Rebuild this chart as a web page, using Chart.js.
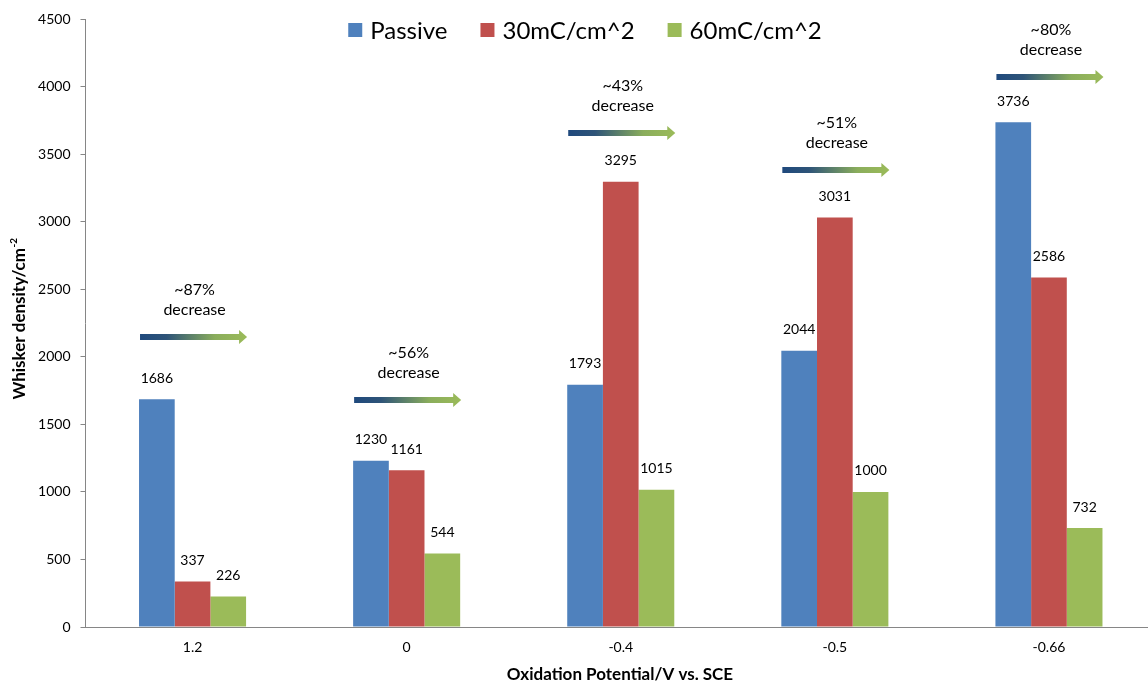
<!DOCTYPE html>
<html>
<head>
<meta charset="utf-8">
<title>Whisker density vs. oxidation potential</title>
<script src="https://cdn.jsdelivr.net/npm/chart.js@4.4.1/dist/chart.umd.min.js"></script>
<style>
  html, body { margin: 0; padding: 0; background: #fff; overflow: hidden; }
  #wrap { width: 1148px; height: 688px; overflow: hidden; position: relative; }
  canvas { display: block; }
</style>
</head>
<body>
<div id="wrap"><canvas id="chart" width="1156" height="688"></canvas></div>
<script>
// Oxidation potential categories (V vs. SCE)
const categories = ['1.2', '0', '-0.4', '-0.5', '-0.66'];

// Whisker density per series (cm^-2)
const passive = [1686, 1230, 1793, 2044, 3736];
const charge30 = [337, 1161, 3295, 3031, 2586];
const charge60 = [226, 544, 1015, 1000, 732];

// Series names
const seriesNames = ['Passive', '30mC/cm^2', '60mC/cm^2'];

// Reduction notes above each group, and the value level of each arrow
const decreaseText = ['~87%', '~56%', '~43%', '~51%', '~80%'];
const arrowLevel = [2150, 1680, 3655, 3380, 4072];

// Y axis range
const yMax = 4500;
const yStep = 500;

const COLORS = ['#4f81bd', '#c0504d', '#9bbb59'];
const FONT = 'Lato, "Liberation Sans", Arial, sans-serif';
const AXIS_GREY = '#868686';

const overlay = {
  id: 'overlay',
  afterDatasetsDraw(chart) {
    const ctx = chart.ctx;
    const xs = chart.scales.x;
    const ys = chart.scales.y;
    const area = chart.chartArea;
    ctx.save();

    // value labels above bars
    ctx.fillStyle = '#000';
    ctx.font = '14px ' + FONT;
    ctx.textAlign = 'center';
    ctx.textBaseline = 'middle';
    chart.data.datasets.forEach((ds, di) => {
      const meta = chart.getDatasetMeta(di);
      meta.data.forEach((bar, i) => {
        ctx.fillText(String(ds.data[i]), bar.x, bar.y - 21);
      });
    });

    // decrease notes with gradient arrows
    const catW = (area.right - area.left) / categories.length;
    decreaseText.forEach((txt, i) => {
      const cx = xs.getPixelForValue(i);
      const y = Math.round(ys.getPixelForValue(arrowLevel[i]));
      const x0 = cx - catW * 0.25 + 1;
      const x1 = cx + catW * 0.25 + 1;
      const headLen = 8, shaftH = 6, headH = 14;
      const g = ctx.createLinearGradient(x0, 0, x1, 0);
      g.addColorStop(0, '#1f497d');
      g.addColorStop(0.25, '#2e5478');
      g.addColorStop(0.7, '#8aad5c');
      g.addColorStop(1, '#9bbb59');
      ctx.fillStyle = g;
      ctx.beginPath();
      ctx.moveTo(x0, y - shaftH / 2);
      ctx.lineTo(x1 - headLen, y - shaftH / 2);
      ctx.lineTo(x1 - headLen, y - headH / 2);
      ctx.lineTo(x1, y);
      ctx.lineTo(x1 - headLen, y + headH / 2);
      ctx.lineTo(x1 - headLen, y + shaftH / 2);
      ctx.lineTo(x0, y + shaftH / 2);
      ctx.closePath();
      ctx.fill();

      ctx.fillStyle = '#000';
      ctx.font = '16px ' + FONT;
      ctx.fillText(txt, cx + 2, y - 47);
      ctx.fillText('decrease', cx + 2, y - 27);
    });

    // legend
    ctx.font = '24px ' + FONT;
    ctx.textAlign = 'left';
    const box = 14, boxGap = 8, itemGap = 33;
    const widths = seriesNames.map(n => box + boxGap + ctx.measureText(n).width);
    const total = widths.reduce((a, b) => a + b, 0) + itemGap * (seriesNames.length - 1);
    let lx = 585 - total / 2;
    const ly = 30;
    seriesNames.forEach((n, i) => {
      ctx.fillStyle = COLORS[i];
      ctx.fillRect(lx, ly - box / 2, box, box);
      ctx.fillStyle = '#000';
      ctx.fillText(n, lx + box + boxGap, ly + 1);
      lx += widths[i] + itemGap;
    });

    // x axis title
    ctx.font = 'bold 17px ' + FONT;
    ctx.textAlign = 'center';
    ctx.fillText('Oxidation Potential/V vs. SCE', 620, 675);

    // y axis title with superscript
    ctx.translate(20, 319);
    ctx.rotate(-Math.PI / 2);
    const main = 'Whisker density/cm';
    const sup = '-2';
    ctx.font = 'bold 17px ' + FONT;
    const wMain = ctx.measureText(main).width;
    ctx.font = 'bold 10px ' + FONT;
    const wSup = ctx.measureText(sup).width;
    const start = -(wMain + wSup) / 2;
    ctx.textAlign = 'left';
    ctx.font = 'bold 17px ' + FONT;
    ctx.fillText(main, start, 0);
    ctx.font = 'bold 10px ' + FONT;
    ctx.fillText(sup, start + wMain + 0.5, -6);

    ctx.restore();
  }
};

new Chart(document.getElementById('chart'), {
  type: 'bar',
  data: {
    labels: categories,
    datasets: [
      { label: seriesNames[0], data: passive, backgroundColor: COLORS[0] },
      { label: seriesNames[1], data: charge30, backgroundColor: COLORS[1] },
      { label: seriesNames[2], data: charge60, backgroundColor: COLORS[2] }
    ]
  },
  options: {
    responsive: false,
    animation: false,
    events: [],
    layout: { padding: { top: 19, right: 0, bottom: 0, left: 0 } },
    datasets: { bar: { categoryPercentage: 0.5, barPercentage: 1.0, borderWidth: 0 } },
    plugins: { legend: { display: false }, tooltip: { enabled: false } },
    scales: {
      x: {
        grid: { display: false, drawTicks: false },
        border: { display: true, color: AXIS_GREY, width: 1 },
        ticks: { color: '#000', font: { family: FONT, size: 14 }, padding: 12, maxRotation: 0 },
        afterFit(s) { s.height = 688 - 627; }
      },
      y: {
        min: 0,
        max: yMax,
        ticks: {
          stepSize: yStep,
          color: '#000',
          font: { family: FONT, size: 14 },
          padding: 10,
          callback: (v) => String(v)
        },
        grid: { drawOnChartArea: false, drawTicks: true, tickLength: 5, color: AXIS_GREY },
        border: { display: true, color: AXIS_GREY, width: 1 },
        afterFit(s) { s.width = 85.5; }
      }
    }
  },
  plugins: [overlay]
});
</script>
</body>
</html>
